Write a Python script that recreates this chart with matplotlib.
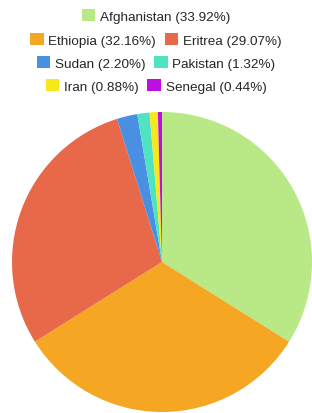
import matplotlib
matplotlib.use("Agg")
import matplotlib.pyplot as plt

countries = ["Afghanistan", "Ethiopia", "Eritrea", "Sudan", "Pakistan", "Iran", "Senegal"]
shares = [33.92, 32.16, 29.07, 2.20, 1.32, 0.88, 0.44]
colors = ["#b8e986", "#f5a623", "#e8694a", "#4a90e2", "#50e3c2", "#f8e71c", "#bd10e0"]
legend_rows = [[0], [1, 2], [3, 4], [5, 6]]

plt.rcParams['font.family'] = ['Liberation Sans', 'DejaVu Sans']

fig = plt.figure(figsize=(3.12, 4.14), dpi=100)
ax = fig.add_axes([12/312, 1/414, 300/312, 300/414])
wedges, _ = ax.pie(shares, colors=colors, startangle=90, counterclock=False,
                   radius=1.0, wedgeprops=dict(linewidth=0))
ax.set_xlim(-1, 1)
ax.set_ylim(-1, 1)
ax.set_aspect('equal')
ax.axis('off')

row_y = [17, 41, 64, 87]
for row, y in zip(legend_rows, row_y):
    handles = [wedges[i] for i in row]
    labels = [f"{countries[i]} ({shares[i]:.2f}%)" for i in row]
    fig.legend(handles, labels, loc='center', bbox_to_anchor=(0.5, 1 - y/414),
               ncol=len(row), frameon=False, fontsize=9.7, handlelength=1.0,
               handleheight=1.0, handletextpad=0.35, columnspacing=0.65,
               borderpad=0, borderaxespad=0, labelcolor='#262626')

fig.savefig("out.png", dpi=100)
